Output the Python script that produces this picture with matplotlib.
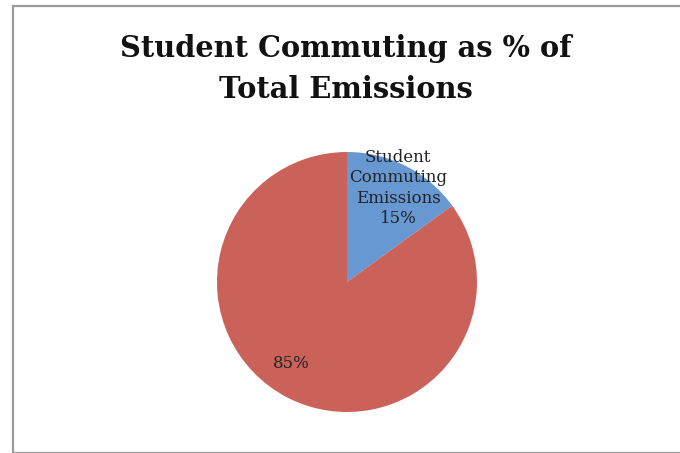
import matplotlib
matplotlib.use("Agg")
import matplotlib.pyplot as plt
from matplotlib.patches import Rectangle

# Share of total emissions
categories = ["Student Commuting Emissions", "Other Emissions"]
shares = [15, 85]
slice_labels = ["Student\nCommuting\nEmissions\n15%", "85%"]
title_lines = ["Student Commuting as % of", "Total Emissions"]
colors = ["#6798D2", "#CA625A"]

W, H = 680, 453
fig = plt.figure(figsize=(W / 100, H / 100), dpi=100)

# chart frame
frame = Rectangle((13 / W, 0.5 / H), (W - 10) / W, (H - 6.5) / H,
                  transform=fig.transFigure, fill=False,
                  edgecolor="#9a9a9a", linewidth=1.6)
fig.patches.append(frame)

# two-line title, each line on its own baseline
for baseline, line in zip([57, 98], title_lines):
    fig.text(346 / W, 1 - baseline / H, line, ha="center", va="baseline",
             fontsize=20.8, fontweight="bold", family="DejaVu Serif",
             color="#111111")

cx, cy, r = 347, 282, 130
ax = fig.add_axes([(cx - r) / W, 1 - (cy + r) / H, 2 * r / W, 2 * r / H])
wedges, _ = ax.pie(shares, colors=colors, startangle=90, counterclock=False,
                   radius=1.0, wedgeprops=dict(linewidth=0))
ax.set_xlim(-1, 1)
ax.set_ylim(-1, 1)
ax.set_aspect("equal")
ax.axis("off")

# slice labels placed inside each wedge
label_pos = [(398, 188), (291, 364)]
for (px, py), txt in zip(label_pos, slice_labels):
    fig.text(px / W, 1 - py / H, txt, ha="center", va="center",
             fontsize=12, family="DejaVu Serif", color="#222222",
             linespacing=1.25)

fig.savefig("out.png", dpi=100)
